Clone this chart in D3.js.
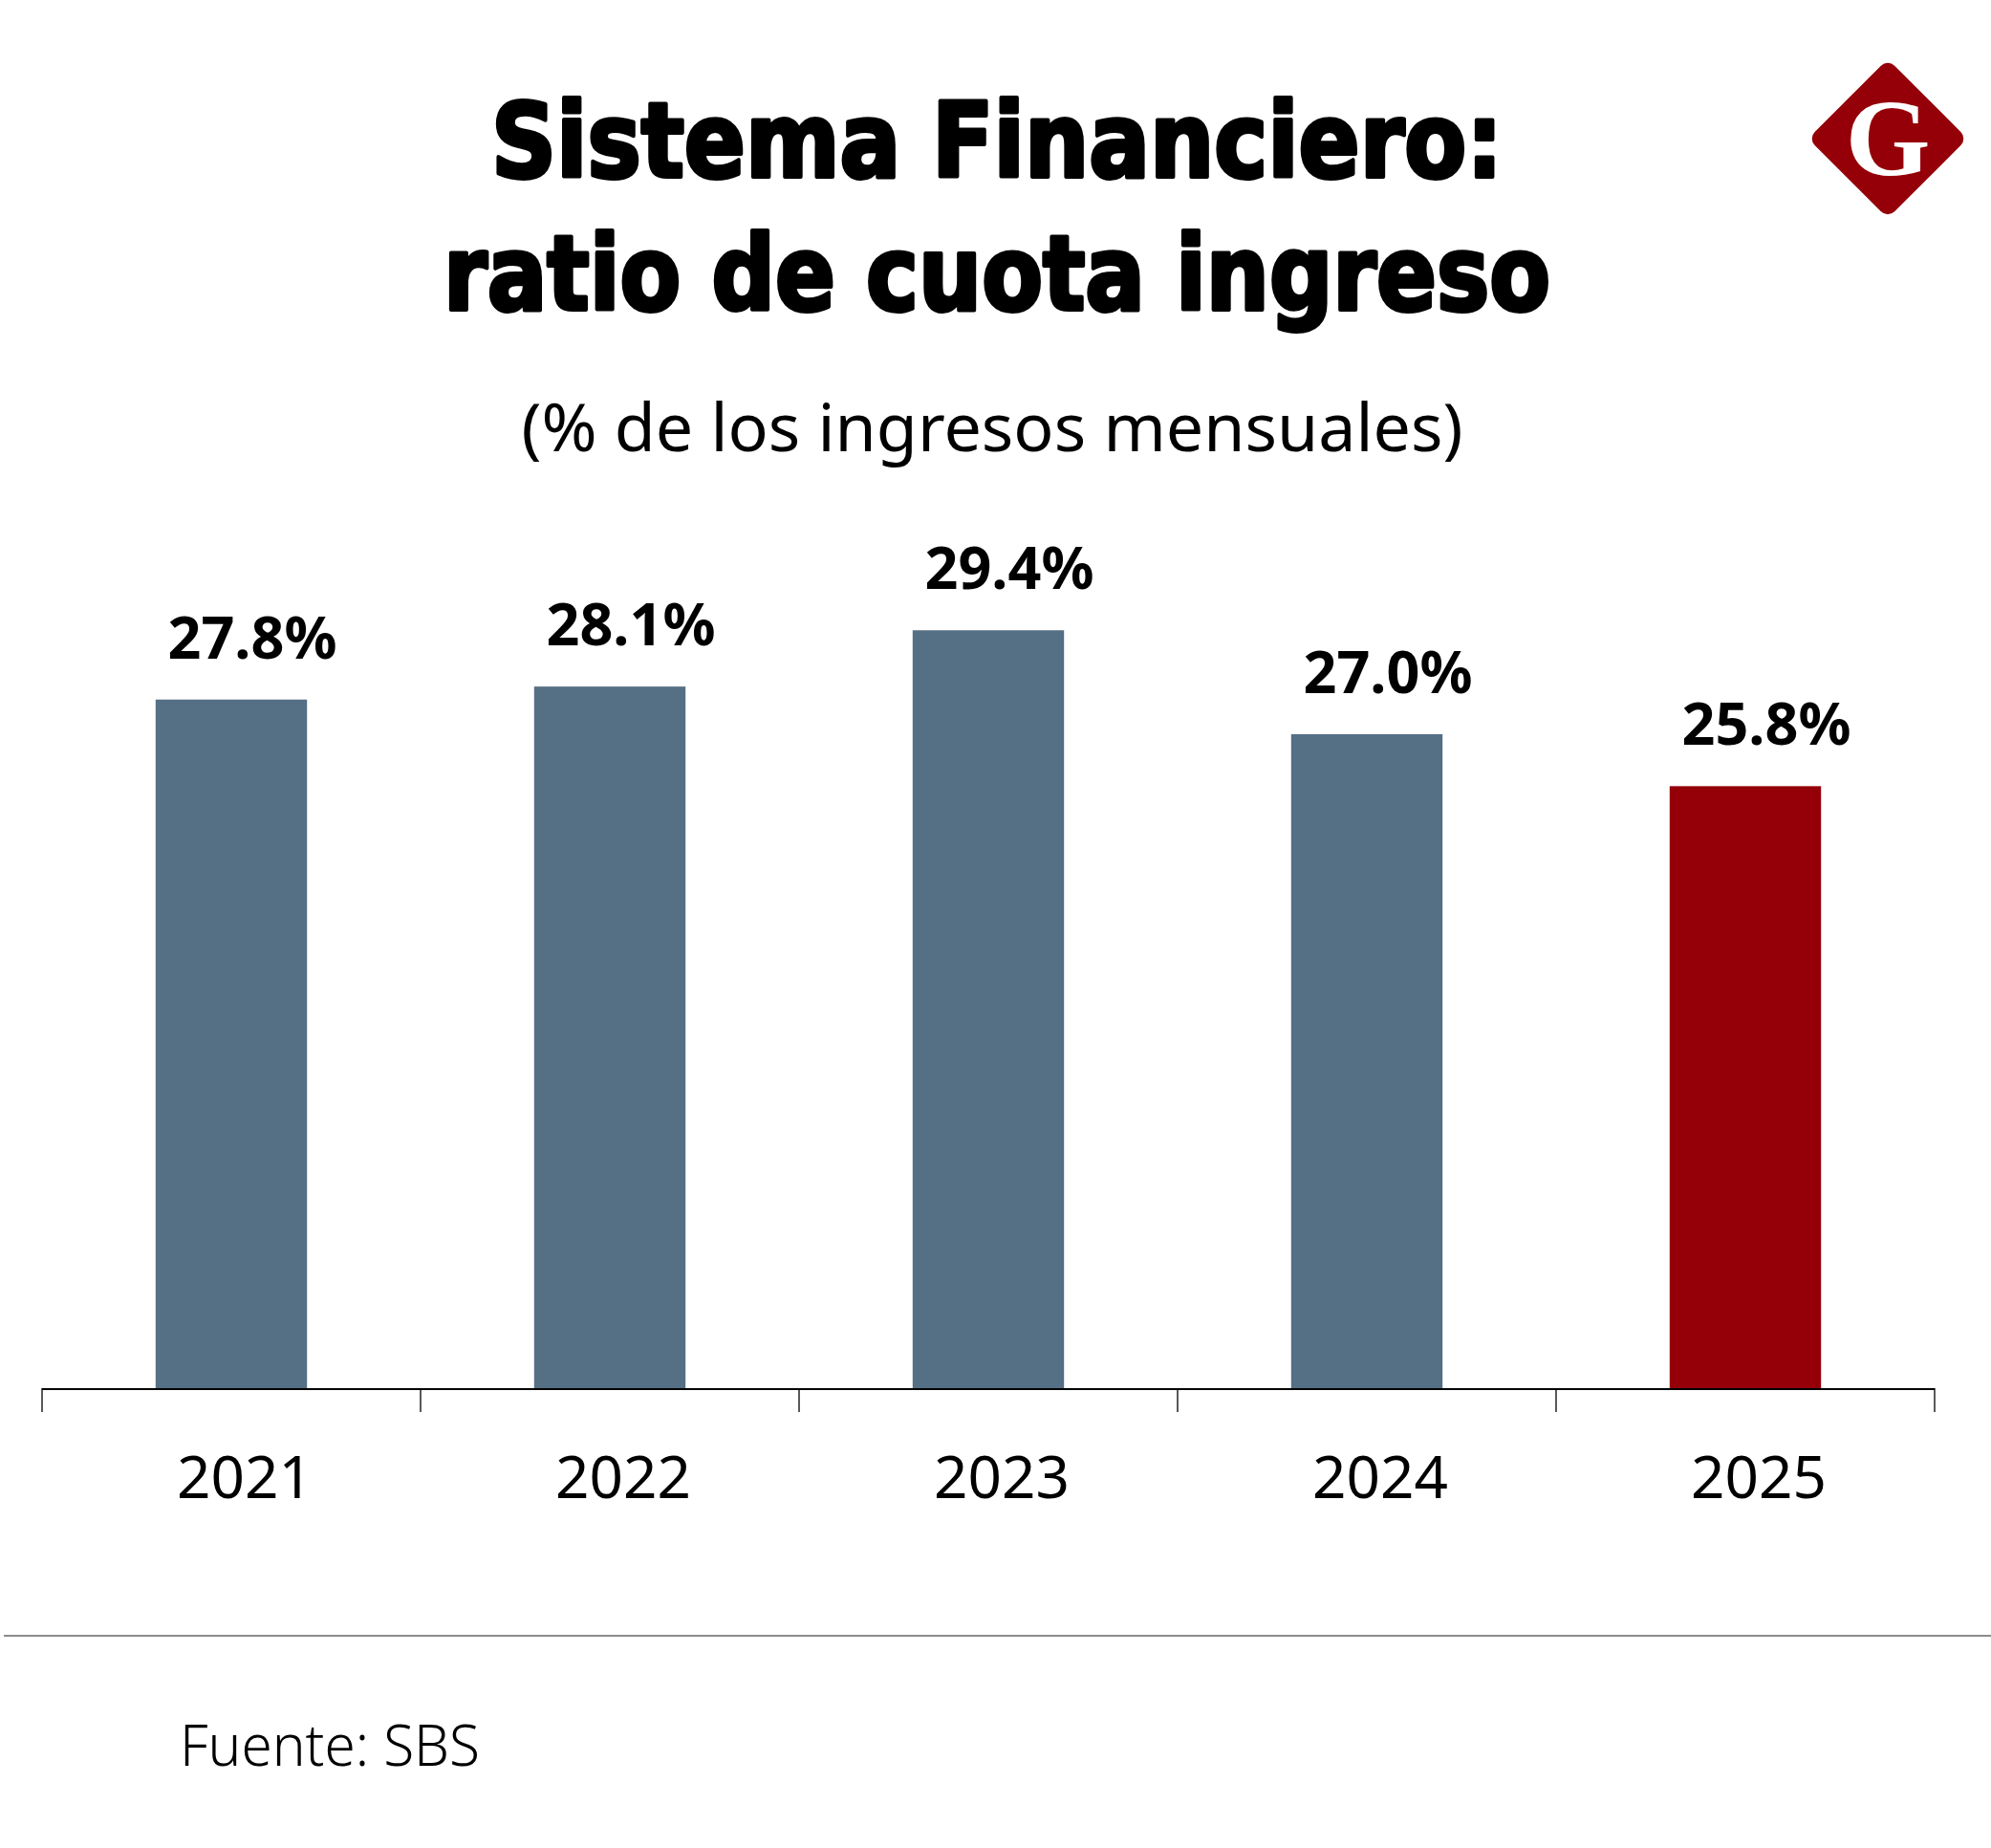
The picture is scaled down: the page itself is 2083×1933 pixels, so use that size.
<!DOCTYPE html>
<html>
<head>
<meta charset="utf-8">
<script src="https://cdn.jsdelivr.net/npm/d3@7"></script>
<style>
  html, body { margin: 0; padding: 0; background: #fff; }
  svg { display: block; }
</style>
</head>
<body>
<div id="chart"></div>
<script>
  // datos
  const years = ["2021", "2022", "2023", "2024", "2025"];
  const ratios = [27.8, 28.1, 29.4, 27.0, 25.8];
  const barColors = ["#556f85", "#556f85", "#556f85", "#556f85", "#950008"];
  const titleLines = ["Sistema Financiero:", "ratio de cuota ingreso"];
  const subtitle = "(% de los ingresos mensuales)";
  const source = "Fuente: SBS";

  const W = 2083, H = 1933;
  const svg = d3.select("#chart").append("svg")
    .attr("width", W).attr("height", H);

  // titulo (fuente condensada y muy gruesa)
  const titleFont = "'DejaVu Sans Condensed', 'DejaVu Sans', sans-serif";
  const titleSpec = [
    { y: 185, cx: 1043, len: 1058 },
    { y: 324, cx: 1043, len: 1158 },
  ];
  svg.selectAll("text.title")
    .data(titleLines)
    .enter()
    .append("text")
    .attr("class", "title")
    .attr("x", (d, i) => titleSpec[i].cx)
    .attr("y", (d, i) => titleSpec[i].y)
    .attr("text-anchor", "middle")
    .attr("textLength", (d, i) => titleSpec[i].len)
    .attr("lengthAdjust", "spacingAndGlyphs")
    .style("font-family", titleFont)
    .style("font-weight", 700)
    .style("font-size", "108px")
    .attr("fill", "#000")
    .attr("stroke", "#000")
    .attr("stroke-width", 4)
    .attr("stroke-linejoin", "round")
    .text((d) => d);

  svg.append("text")
    .attr("x", 1038)
    .attr("y", 472)
    .attr("text-anchor", "middle")
    .attr("textLength", 985)
    .attr("lengthAdjust", "spacingAndGlyphs")
    .style("font-family", "'Noto Sans', sans-serif")
    .style("font-size", "70px")
    .attr("fill", "#000")
    .text(subtitle);

  // logo G
  const logo = svg.append("g").attr("transform", "translate(1975,145)");
  logo.append("rect")
    .attr("x", -59).attr("y", -59)
    .attr("width", 118).attr("height", 118)
    .attr("rx", 10)
    .attr("transform", "rotate(45)")
    .attr("fill", "#950008");
  logo.append("text")
    .attr("x", 0).attr("y", 38)
    .attr("text-anchor", "middle")
    .style("font-family", "'Liberation Serif', 'DejaVu Serif', serif")
    .style("font-weight", 700)
    .style("font-size", "114px")
    .attr("fill", "#fff")
    .text("G");

  // escalas
  const x = d3.scaleBand()
    .domain(years)
    .range([44, 2024])
    .paddingInner(0.6)
    .paddingOuter(0.3);
  const baseY = 1452;
  const y = d3.scaleLinear()
    .domain([11.9, 30])
    .range([baseY, baseY - 45.3 * 18.1]);

  // barras
  svg.selectAll("rect.bar")
    .data(ratios)
    .enter()
    .append("rect")
    .attr("class", "bar")
    .attr("x", (d, i) => x(years[i]))
    .attr("width", x.bandwidth())
    .attr("y", (d) => y(d))
    .attr("height", (d) => baseY - y(d))
    .attr("fill", (d, i) => barColors[i]);

  // etiquetas de valor
  svg.selectAll("text.value")
    .data(ratios)
    .enter()
    .append("text")
    .attr("class", "value")
    .attr("x", (d, i) => x(years[i]) + x.bandwidth() / 2 + 22)
    .attr("y", (d) => y(d) - 43)
    .attr("text-anchor", "middle")
    .style("font-family", "'Noto Sans', sans-serif")
    .style("font-weight", 700)
    .style("font-size", "61px")
    .attr("fill", "#000")
    .text((d) => d.toFixed(1) + "%");

  // eje x: linea base y marcas en los limites de cada banda
  const step = x.step();
  const edges = d3.range(years.length + 1).map((i) => 44 + i * step);
  svg.append("line")
    .attr("x1", 44).attr("x2", 2024)
    .attr("y1", baseY + 1).attr("y2", baseY + 1)
    .attr("stroke", "#000")
    .attr("stroke-width", 2);
  svg.selectAll("line.tick")
    .data(edges)
    .enter()
    .append("line")
    .attr("class", "tick")
    .attr("x1", (d) => d).attr("x2", (d) => d)
    .attr("y1", baseY).attr("y2", baseY + 25)
    .attr("stroke", "#000")
    .attr("stroke-width", 1.3);

  svg.selectAll("text.year")
    .data(years)
    .enter()
    .append("text")
    .attr("class", "year")
    .attr("x", (d) => x(d) + x.bandwidth() / 2 + 14)
    .attr("y", 1567)
    .attr("text-anchor", "middle")
    .style("font-family", "'Noto Sans', sans-serif")
    .style("font-size", "62px")
    .attr("fill", "#000")
    .text((d) => d);

  // pie
  svg.append("line")
    .attr("x1", 4).attr("x2", W)
    .attr("y1", 1711).attr("y2", 1711)
    .attr("stroke", "#8c8c8c")
    .attr("stroke-width", 2);

  svg.append("text")
    .attr("x", 188)
    .attr("y", 1847)
    .attr("textLength", 314)
    .attr("lengthAdjust", "spacingAndGlyphs")
    .style("font-family", "'Noto Sans', sans-serif")
    .style("font-weight", 300)
    .style("font-size", "60px")
    .attr("fill", "#000")
    .text(source);
</script>
</body>
</html>
